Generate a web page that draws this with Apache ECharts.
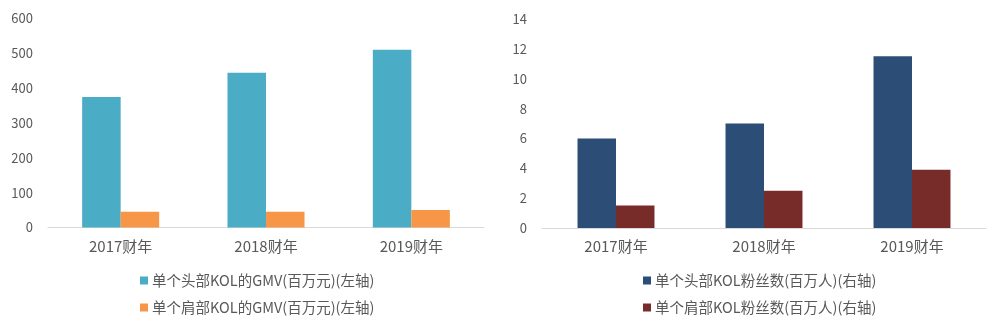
<!DOCTYPE html>
<html>
<head>
<meta charset="utf-8">
<script src="https://cdn.jsdelivr.net/npm/echarts@6/dist/echarts.min.js"></script>
<style>
  html, body { margin: 0; padding: 0; background: #fff; }
  #chart { width: 1004px; height: 330px; }
</style>
</head>
<body>
<div id="chart"></div>
<script>
// Fiscal years shared by both panels
const years = ['2017财年', '2018财年', '2019财年'];

// Left panel: GMV per KOL (million yuan)
const gmvTopName = '单个头部KOL的GMV(百万元)(左轴)';
const gmvShoulderName = '单个肩部KOL的GMV(百万元)(左轴)';
const gmvTop = [374, 443, 509];
const gmvShoulder = [45, 45, 50];

// Right panel: followers per KOL (million people)
const fansTopName = '单个头部KOL粉丝数(百万人)(右轴)';
const fansShoulderName = '单个肩部KOL粉丝数(百万人)(右轴)';
const fansTop = [6, 7, 11.5];
const fansShoulder = [1.5, 2.5, 3.9];

const textColor = '#595959';
const fontFamily = '"Noto Sans CJK SC", "Noto Sans", sans-serif';

function xAxisFor(gridIndex) {
  return {
    type: 'category',
    gridIndex: gridIndex,
    data: years,
    axisLine: { lineStyle: { color: '#d9d9d9', width: 1 } },
    axisTick: { show: false },
    axisLabel: { color: textColor, fontSize: 15, fontFamily: fontFamily, margin: 11 }
  };
}

function yAxisFor(gridIndex, max, interval) {
  return {
    type: 'value',
    gridIndex: gridIndex,
    min: 0,
    max: max,
    interval: interval,
    axisLine: { show: false },
    axisTick: { show: false },
    splitLine: { show: false },
    axisLabel: { color: textColor, fontSize: 13, fontFamily: fontFamily, margin: 15 }
  };
}

function legendFor(left, names) {
  return {
    orient: 'vertical',
    left: left,
    top: 273,
    padding: 0,
    itemWidth: 8,
    itemHeight: 8,
    itemGap: 12,
    icon: 'rect',
    data: names,
    textStyle: { color: textColor, fontSize: 14.5, lineHeight: 15, fontFamily: fontFamily, padding: [0, 0, 0, -1] }
  };
}

const chart = echarts.init(document.getElementById('chart'), null, { renderer: 'canvas' });

chart.setOption({
  backgroundColor: '#ffffff',
  animation: false,
  grid: [
    { left: 48, right: 520, top: 18, bottom: 102.5 },
    { left: 542, right: 18, top: 19, bottom: 102 }
  ],
  legend: [
    legendFor(140, [gmvTopName, gmvShoulderName]),
    legendFor(643, [fansTopName, fansShoulderName])
  ],
  xAxis: [xAxisFor(0), xAxisFor(1)],
  yAxis: [yAxisFor(0, 600, 100), yAxisFor(1, 14, 2)],
  series: [
    { name: gmvTopName, type: 'bar', xAxisIndex: 0, yAxisIndex: 0, data: gmvTop,
      itemStyle: { color: '#4bacc6' }, barGap: '0%', barCategoryGap: '47%' },
    { name: gmvShoulderName, type: 'bar', xAxisIndex: 0, yAxisIndex: 0, data: gmvShoulder,
      itemStyle: { color: '#f79646' }, barGap: '0%', barCategoryGap: '47%' },
    { name: fansTopName, type: 'bar', xAxisIndex: 1, yAxisIndex: 1, data: fansTop,
      itemStyle: { color: '#2c4d75' }, barGap: '0%', barCategoryGap: '48%' },
    { name: fansShoulderName, type: 'bar', xAxisIndex: 1, yAxisIndex: 1, data: fansShoulder,
      itemStyle: { color: '#772c2a' }, barGap: '0%', barCategoryGap: '48%' }
  ]
});
</script>
</body>
</html>
